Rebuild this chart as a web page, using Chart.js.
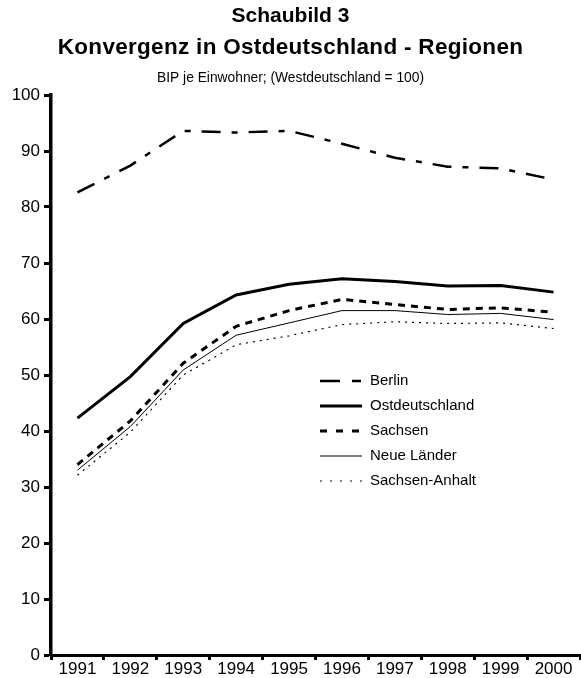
<!DOCTYPE html>
<html><head><meta charset="utf-8">
<script src="https://cdn.jsdelivr.net/npm/chart.js@4.4.0/dist/chart.umd.min.js"></script>
<style>html,body{margin:0;padding:0;background:#fff;}#wrap{width:581px;height:678px;}</style>
</head><body><div id="wrap"><canvas id="c" width="581" height="678"></canvas></div>
<script>
const years = ['1991','1992','1993','1994','1995','1996','1997','1998','1999','2000'];
const berlin         = [82.6, 87.4, 93.6, 93.3, 93.6, 91.3, 88.8, 87.2, 86.9, 84.9];
const ostdeutschland = [42.3, 49.7, 59.2, 64.3, 66.2, 67.2, 66.7, 65.9, 66.0, 64.8];
const sachsen        = [34.0, 41.8, 52.1, 58.7, 61.5, 63.5, 62.6, 61.7, 62.0, 61.2];
const neueLaender    = [33.0, 40.8, 50.9, 57.1, 59.3, 61.5, 61.5, 60.8, 61.0, 59.9];
const sachsenAnhalt  = [32.1, 39.8, 50.0, 55.4, 57.0, 59.0, 59.5, 59.2, 59.3, 58.3];
const seriesNames = ['Berlin','Ostdeutschland','Sachsen','Neue Länder','Sachsen-Anhalt'];
const titleLines = ['Schaubild 3','Konvergenz in Ostdeutschland - Regionen'];
const subtitleText = 'BIP je Einwohner; (Westdeutschland = 100)';

const FONT = '"Liberation Sans", Arial, sans-serif';

const headerPlugin = {
  id: 'header',
  afterDraw(chart) {
    const ctx = chart.ctx;
    const cx = chart.width / 2;
    const hasLS = ('letterSpacing' in ctx);
    ctx.save();
    ctx.fillStyle = '#000';
    ctx.textAlign = 'center';
    ctx.textBaseline = 'middle';
    ctx.font = 'bold 21px ' + FONT;
    if (hasLS) ctx.letterSpacing = '0px';
    ctx.fillText(titleLines[0], cx, 16);
    ctx.font = 'bold 22.5px ' + FONT;
    if (hasLS) ctx.letterSpacing = '0.3px';
    ctx.fillText(titleLines[1], cx, 48);
    if (hasLS) ctx.letterSpacing = '0px';
    ctx.font = '13.8px ' + FONT;
    ctx.fillText(subtitleText, cx, 78);
    ctx.restore();
  }
};

const inlineLegend = {
  id: 'inlineLegend',
  afterDatasetsDraw(chart) {
    const ctx = chart.ctx;
    const x0 = 320, x1 = 362, tx = 370;
    const ys = [381, 406, 431, 456, 481];
    chart.data.datasets.forEach((ds, i) => {
      const y = ys[i];
      ctx.save();
      ctx.strokeStyle = '#000';
      ctx.lineWidth = ds.borderWidth;
      ctx.lineCap = 'butt';
      ctx.setLineDash(ds.legendDash || []);
      ctx.beginPath(); ctx.moveTo(x0, y); ctx.lineTo(x1, y); ctx.stroke();
      ctx.setLineDash([]);
      ctx.fillStyle = '#000';
      ctx.font = '15px ' + FONT;
      ctx.textBaseline = 'middle';
      ctx.textAlign = 'left';
      ctx.fillText(ds.label, tx, y);
      ctx.restore();
    });
  }
};

new Chart(document.getElementById('c'), {
  type: 'line',
  data: {
    labels: years,
    datasets: [
      {label: seriesNames[0], data: berlin, borderColor:'#000', borderWidth:2.5, borderDash:[19,11,6,11], legendDash:[20,12,9,20]},
      {label: seriesNames[1], data: ostdeutschland, borderColor:'#000', borderWidth:3, legendDash:[]},
      {label: seriesNames[2], data: sachsen, borderColor:'#000', borderWidth:3, borderDash:[7,6], legendDash:[7,9]},
      {label: seriesNames[3], data: neueLaender, borderColor:'#000', borderWidth:1, legendDash:[]},
      {label: seriesNames[4], data: sachsenAnhalt, borderColor:'#000', borderWidth:1.2, borderDash:[2,5], legendDash:[2,8]}
    ]
  },
  options: {
    responsive: false,
    animation: false,
    devicePixelRatio: 1,
    elements: { point: { radius: 0 }, line: { tension: 0, borderCapStyle: 'butt', fill: false } },
    layout: { padding: { left: 10, right: 1, top: 95, bottom: 0 } },
    plugins: {
      legend: { display: false },
      tooltip: { enabled: false },
      title: { display: false },
      subtitle: { display: false }
    },
    scales: {
      x: {
        offset: true,
        grid: { offset: true, drawOnChartArea: false, drawTicks: true, tickLength: 5, tickWidth: 3, tickColor: '#000' },
        border: { display: true, color: '#000', width: 3 },
        ticks: { color: '#000', font: { family: FONT, size: 17, lineHeight: 1 }, padding: 1, maxRotation: 0, autoSkip: false },
        afterFit(s) { s.height = 23; }
      },
      y: {
        min: 0, max: 100,
        ticks: { stepSize: 10, color: '#000', font: { family: FONT, size: 17 }, padding: 4 },
        grid: { drawOnChartArea: false, drawTicks: true, tickLength: 7, tickWidth: 3, tickColor: '#000' },
        border: { display: true, color: '#000', width: 3.5 },
        afterFit(s) { s.width = 41; }
      }
    }
  },
  plugins: [inlineLegend, headerPlugin]
});
</script>
</body></html>
